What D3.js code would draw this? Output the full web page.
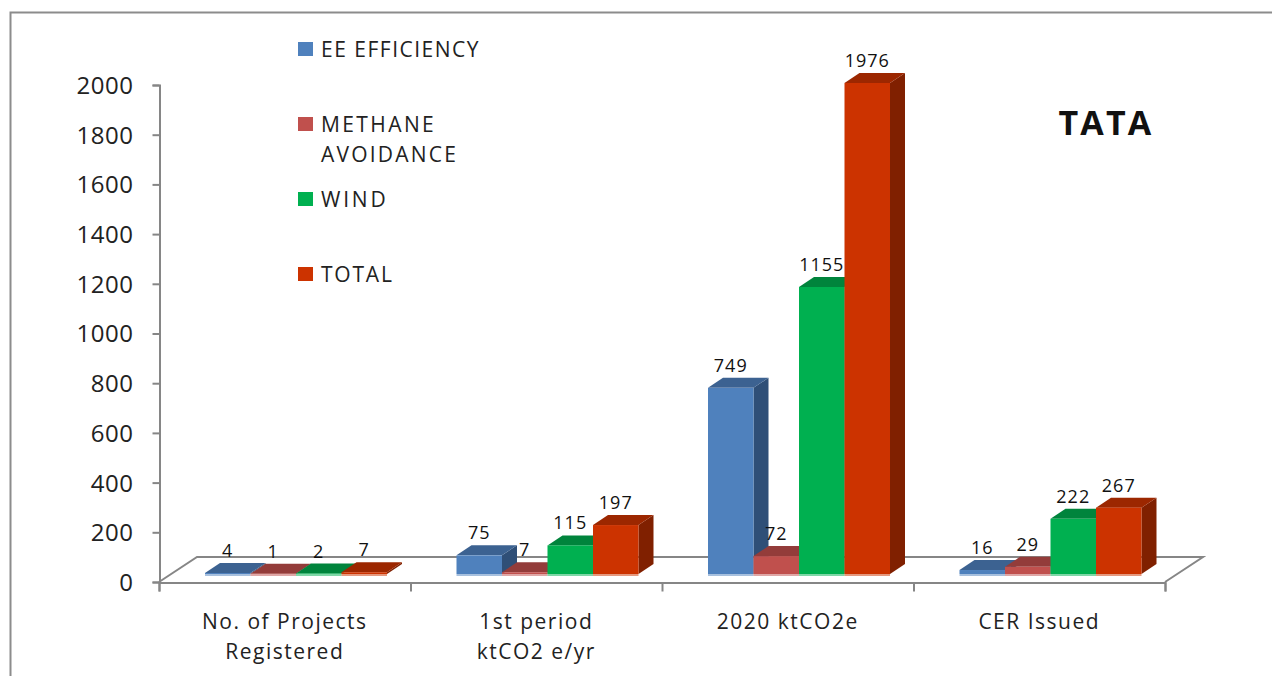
<!DOCTYPE html>
<html><head><meta charset="utf-8">
<script src="https://cdn.jsdelivr.net/npm/d3@7"></script>
<style>html,body{margin:0;padding:0;background:#fff}svg{display:block}text{font-family:"Open Sans","DejaVu Sans",sans-serif}</style>
</head><body><svg id="c" width="1272" height="676"></svg>
<script>
const categories=[["No. of Projects","Registered"],["1st period","ktCO2 e/yr"],["2020 ktCO2e"],["CER Issued"]];
const seriesNames=["EE EFFICIENCY","METHANE","WIND","TOTAL"];
const eeValues=[4,75,749,16];
const methaneValues=[1,7,72,29];
const windValues=[2,115,1155,222];
const totalValues=[7,197,1976,267];
const tickValues=[0,200,400,600,800,1000,1200,1400,1600,1800,2000];

const colors=["#4f81bd","#c0504d","#00b050","#cc3300"];
const tops=["#3c6291","#933c3a","#00843c","#9c2700"];
const sides=["#2f4f77","#7a3230","#006e32","#802000"];
const allSeries=[eeValues,methaneValues,windValues,totalValues];

const svg=d3.select("#c");
const grey="#868686";
const dx=15,dy=-10,lift=8;
const y=d3.scaleLinear().domain([0,2000]).range([582,85]);
const x0=d3.scaleBand().domain(d3.range(4)).range([159,1165]);
const x1=d3.scaleBand().domain(d3.range(4)).range([46,228]);

// frame: open on the right and at the bottom
svg.append("path").attr("d","M10.5,676V12.5H1272").attr("fill","none").attr("stroke","#8c8c8c").attr("stroke-width",2);

// floor
svg.append("path").attr("d",`M159,582L197,557H1203L1165,582`).attr("fill","#fff").attr("stroke",grey).attr("stroke-width",2);

// axes
const yAxis=d3.axisLeft(y).tickValues(tickValues).tickSize(7).tickPadding(19).tickFormat(d3.format("d"));
const gy=svg.append("g").attr("transform","translate(159.5,0)").call(yAxis);
gy.selectAll("path,line").attr("stroke",grey).attr("stroke-width",2);
gy.selectAll("text").attr("font-size",24).attr("letter-spacing",0.5).attr("fill","#222").attr("dy","0.35em");
const xAxis=d3.axisBottom(d3.scaleLinear().domain([0,4]).range([159,1165])).ticks(4).tickSize(9).tickFormat("");
const gx=svg.append("g").attr("transform","translate(0,582.5)").call(xAxis);
gx.selectAll("path,line").attr("stroke",grey).attr("stroke-width",2);

// bars
const g=svg.append("g");
categories.forEach((c,ci)=>{
  allSeries.forEach((vals,si)=>{
    const v=vals[ci];
    const l=x0(ci)+x1(si), w=x1.bandwidth(), r=l+w;
    const t=y(v)-lift, b=y(0)-lift;
    const bar=g.append("g");
    bar.append("path").attr("d",`M${r},${b}L${r+dx},${b+dy}V${t+dy}L${r},${t}Z`).attr("fill",sides[si]);
    bar.append("path").attr("d",`M${l},${t}L${l+dx},${t+dy}H${r+dx}L${r},${t}Z`).attr("fill",tops[si]);
    bar.append("rect").attr("x",l).attr("y",t).attr("width",w).attr("height",Math.max(b-t,0)).attr("fill",colors[si]);
    bar.append("rect").attr("x",l).attr("y",b).attr("width",w).attr("height",2).attr("fill",colors[si]).attr("opacity",.5);
  });
});
// value labels
categories.forEach((c,ci)=>{
  allSeries.forEach((vals,si)=>{
    const v=vals[ci];
    svg.append("text").attr("x",x0(ci)+x1(si)+x1.bandwidth()/2).attr("y",y(v)-lift+dy-6)
      .attr("text-anchor","middle").attr("font-size",18).attr("letter-spacing",1).attr("fill","#111").text(v);
  });
});
// category labels
categories.forEach((c,ci)=>{
  const cx=x0(ci)+x0.bandwidth()/2;
  c.forEach((s,i)=>svg.append("text").attr("x",cx).attr("y",629+i*30).attr("text-anchor","middle").attr("font-size",21).attr("letter-spacing",1.5).attr("fill","#222").text(s));
});
// legend
const legendY=[49,124,199,274];
const legendSpacing=[1.5,2.4,2.8,1.8];
seriesNames.forEach((n,i)=>{
  svg.append("rect").attr("x",298).attr("y",legendY[i]-7).attr("width",15).attr("height",14).attr("fill",colors[i]);
  svg.append("text").attr("x",321).attr("y",legendY[i]+8).attr("font-size",21).attr("letter-spacing",legendSpacing[i]).attr("fill","#222").text(n);
});
svg.append("text").attr("x",321).attr("y",162).attr("font-size",21).attr("letter-spacing",2.2).attr("fill","#222").text("AVOIDANCE");
// title
svg.append("text").attr("x",1106).attr("y",135).attr("text-anchor","middle").attr("font-size",34).attr("letter-spacing",2.2).attr("font-weight",700).attr("fill","#111").text("TATA");
</script></body></html>
